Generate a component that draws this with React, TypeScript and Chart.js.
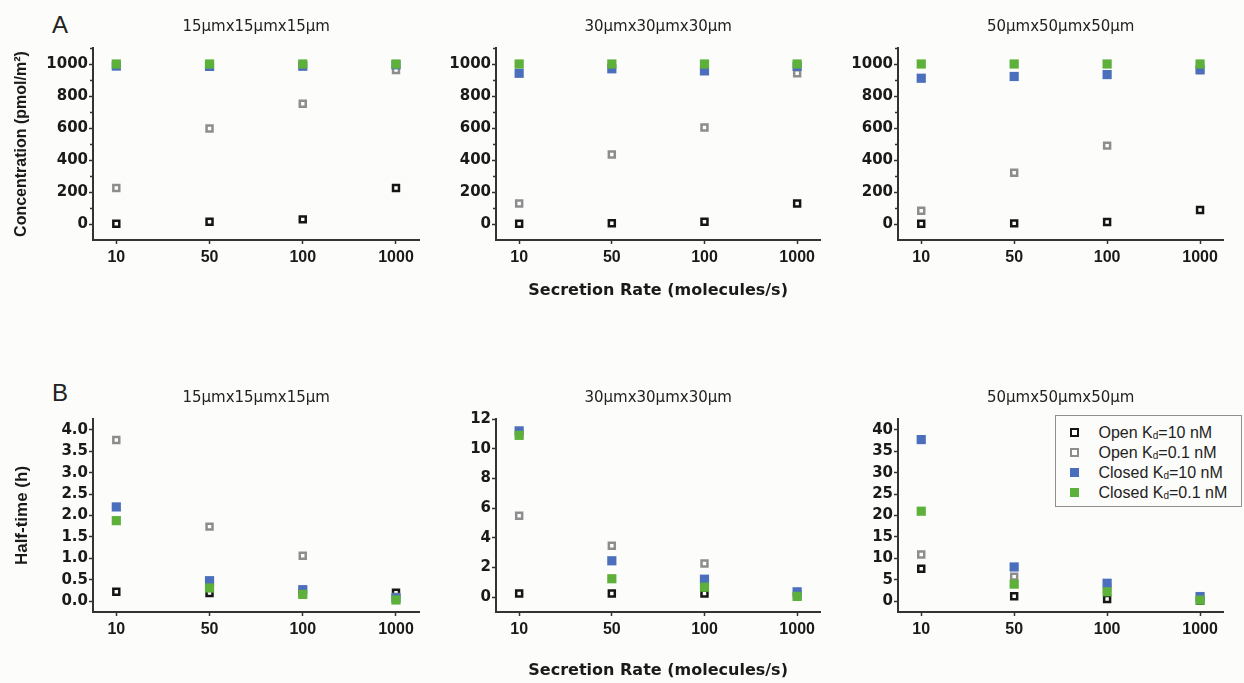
import React, { useEffect, useRef } from 'react';
import { Chart, registerables } from 'chart.js';

Chart.register(...registerables);

// ---------- data ----------
const rates = ['10', '50', '100', '1000'];
const seriesPrefix = ['Open', 'Open', 'Closed', 'Closed'];
const seriesKd = ['10', '0.1', '10', '0.1'];
const boxSizes = ['15μmx15μmx15μm', '30μmx30μmx30μm', '50μmx50μmx50μm'];

// Concentration (pmol/m²)
const conc15Open10 = [1, 14, 29, 225];
const conc15Open01 = [225, 597, 752, 963];
const conc15Closed10 = [987, 985, 986, 995];
const conc15Closed01 = [1000, 1000, 1000, 1000];

const conc30Open10 = [1, 5, 14, 128];
const conc30Open01 = [128, 434, 603, 942];
const conc30Closed10 = [942, 970, 957, 985];
const conc30Closed01 = [1000, 1000, 1000, 1000];

const conc50Open10 = [1, 4, 12, 87];
const conc50Open01 = [83, 320, 490, 960];
const conc50Closed10 = [911, 922, 934, 965];
const conc50Closed01 = [1000, 1000, 1000, 1000];

// Half-time (h)
const half15Open10 = [0.22, 0.19, 0.2, 0.2];
const half15Open01 = [3.76, 1.74, 1.06, 0.1];
const half15Closed10 = [2.2, 0.48, 0.27, 0.08];
const half15Closed01 = [1.88, 0.31, 0.16, 0.03];

const half30Open10 = [0.25, 0.25, 0.25, 0.1];
const half30Open01 = [5.48, 3.46, 2.27, 0.25];
const half30Closed10 = [11.2, 2.45, 1.21, 0.36];
const half30Closed01 = [10.9, 1.24, 0.67, 0.05];

const half50Open10 = [7.6, 1.17, 0.54, 0.1];
const half50Open01 = [10.9, 5.75, 3.1, 0.4];
const half50Closed10 = [37.7, 8.0, 4.2, 1.1];
const half50Closed01 = [21.0, 4.0, 2.2, 0.25];

// tick values
const concTicks = [0, 200, 400, 600, 800, 1000];
const concMinorTicks = [100, 300, 500, 700, 900, 1100];
const half15Ticks = [0, 0.5, 1, 1.5, 2, 2.5, 3, 3.5, 4];
const half30Ticks = [0, 2, 4, 6, 8, 10, 12];
const half50Ticks = [0, 5, 10, 15, 20, 25, 30, 35, 40];

const xTitle = 'Secretion Rate (molecules/s)';
const concTitle = 'Concentration (pmol/m²)';
const halfTitle = 'Half-time (h)';

// ---------- styles ----------
const AXIS = '#333333';
const TEXT = '#1a1a1a';
const BG = '#fcfcfa';
const seriesStyle = [
  { fill: '#ffffff', stroke: '#151515', r: 4.2, bw: 2.5, order: 3 },
  { fill: '#ffffff', stroke: '#8d8d8d', r: 4.2, bw: 2.5, order: 2 },
  { fill: '#4c6fbd', stroke: '#4c6fbd', r: 6.5, bw: 0, order: 1 },
  { fill: '#5db13a', stroke: '#5db13a', r: 6.5, bw: 0, order: 0 },
];

const rows = [
  { top: 0, height: 300, titlePad: { top: 18, bottom: 12 }, xAxisH: 60, xTitlePad: 0, yTitleSize: 16 },
  { top: 370, height: 313, titlePad: { top: 19, bottom: 12 }, xAxisH: 71, xTitlePad: 3, yTitleSize: 17 },
];
const cols = [
  { left: 0, width: 426, yAxisW: 93 },
  { left: 426, width: 401, yAxisW: 70 },
  { left: 828, width: 402, yAxisW: 70 },
];

const minorTickPlugin = {
  id: 'minorTicks',
  afterDraw(chart: any, _args: any, opts: any) {
    const vals: number[] = opts && opts.values;
    if (!vals || !vals.length) return;
    const s = chart.scales.y;
    const ctx = chart.ctx;
    ctx.save();
    ctx.strokeStyle = AXIS;
    ctx.lineWidth = 1.5;
    vals.forEach((v) => {
      const y = Math.round(s.getPixelForValue(v)) + 0.5;
      ctx.beginPath();
      ctx.moveTo(s.right - 3, y);
      ctx.lineTo(s.right, y);
      ctx.stroke();
    });
    ctx.restore();
  },
};

type PanelDef = {
  row: number;
  col: number;
  title: string;
  series: number[][];
  yMin: number;
  yMax: number;
  yTicks: number[];
  yMinor: number[];
  yFmt: (v: number) => string;
  yTitle?: string;
  showXTitle: boolean;
};

const panels: PanelDef[] = [
  { row: 0, col: 0, title: boxSizes[0], series: [conc15Open10, conc15Open01, conc15Closed10, conc15Closed01], yMin: -100, yMax: 1100, yTicks: concTicks, yMinor: concMinorTicks, yFmt: (v) => String(v), yTitle: concTitle, showXTitle: false },
  { row: 0, col: 1, title: boxSizes[1], series: [conc30Open10, conc30Open01, conc30Closed10, conc30Closed01], yMin: -100, yMax: 1100, yTicks: concTicks, yMinor: concMinorTicks, yFmt: (v) => String(v), showXTitle: true },
  { row: 0, col: 2, title: boxSizes[2], series: [conc50Open10, conc50Open01, conc50Closed10, conc50Closed01], yMin: -100, yMax: 1100, yTicks: concTicks, yMinor: concMinorTicks, yFmt: (v) => String(v), showXTitle: false },
  { row: 1, col: 0, title: boxSizes[0], series: [half15Open10, half15Open01, half15Closed10, half15Closed01], yMin: -0.25, yMax: 4.25, yTicks: half15Ticks, yMinor: [], yFmt: (v) => v.toFixed(1), yTitle: halfTitle, showXTitle: false },
  { row: 1, col: 1, title: boxSizes[1], series: [half30Open10, half30Open01, half30Closed10, half30Closed01], yMin: -1, yMax: 12, yTicks: half30Ticks, yMinor: [], yFmt: (v) => String(v), showXTitle: true },
  { row: 1, col: 2, title: boxSizes[2], series: [half50Open10, half50Open01, half50Closed10, half50Closed01], yMin: -2.5, yMax: 42.5, yTicks: half50Ticks, yMinor: [], yFmt: (v) => String(v), showXTitle: false },
];

function ScatterPanel({ def }: { def: PanelDef }) {
  const ref = useRef<HTMLCanvasElement | null>(null);
  const r = rows[def.row];
  const c = cols[def.col];

  useEffect(() => {
    if (!ref.current) return;
    const chart = new Chart(ref.current, {
      type: 'scatter',
      data: {
        datasets: def.series.map((vals, i) => ({
          label: seriesPrefix[i] + ' Kd=' + seriesKd[i] + ' nM',
          data: vals.map((v, j) => ({ x: j, y: v })),
          pointStyle: 'rect',
          pointRadius: seriesStyle[i].r,
          pointHoverRadius: seriesStyle[i].r,
          pointBackgroundColor: seriesStyle[i].fill,
          pointBorderColor: seriesStyle[i].stroke,
          pointBorderWidth: seriesStyle[i].bw,
          pointHoverBorderWidth: seriesStyle[i].bw,
          backgroundColor: seriesStyle[i].fill,
          borderColor: seriesStyle[i].stroke,
          borderWidth: seriesStyle[i].bw,
          order: seriesStyle[i].order,
          showLine: false,
          clip: false,
        })),
      } as any,
      options: {
        responsive: false,
        animation: false,
        events: [],
        layout: { padding: 0 },
        plugins: {
          legend: { display: false },
          tooltip: { enabled: false },
          title: {
            display: true,
            text: def.title,
            fullSize: false,
            color: '#222',
            font: { family: '"DejaVu Sans", sans-serif', size: 15, weight: 'normal', lineHeight: 1.2 },
            padding: r.titlePad,
          },
          minorTicks: { values: def.yMinor },
        } as any,
        scales: {
          x: {
            type: 'linear',
            min: -0.25,
            max: 3.25,
            afterBuildTicks: (s: any) => {
              s.ticks = rates.map((_, i) => ({ value: i }));
            },
            afterFit: (s: any) => {
              s.height = r.xAxisH;
            },
            grid: { display: true, drawOnChartArea: false, drawTicks: true, tickLength: 4, tickColor: AXIS, tickWidth: 1.5 },
            border: { display: true, color: AXIS, width: 2 },
            ticks: {
              callback: (v: any) => rates[v],
              color: TEXT,
              font: { family: '"Liberation Sans", Arial, sans-serif', size: 16, weight: 'bold' },
              padding: 4,
              maxRotation: 0,
              autoSkip: false,
            },
            title: {
              display: def.showXTitle,
              text: xTitle,
              color: TEXT,
              font: { family: '"DejaVu Sans", sans-serif', size: 16, weight: 'bold', lineHeight: 1.2 },
              padding: { top: 0, bottom: r.xTitlePad },
            },
          },
          y: {
            type: 'linear',
            min: def.yMin,
            max: def.yMax,
            afterBuildTicks: (s: any) => {
              s.ticks = def.yTicks.map((v) => ({ value: v }));
            },
            afterFit: (s: any) => {
              s.width = c.yAxisW;
            },
            grid: { display: true, drawOnChartArea: false, drawTicks: true, tickLength: 4, tickColor: AXIS, tickWidth: 1.5 },
            border: { display: true, color: AXIS, width: 2 },
            ticks: {
              callback: (v: any) => def.yFmt(Number(v)),
              color: TEXT,
              font: { family: '"DejaVu Sans", sans-serif', size: 15, weight: 'bold' },
              padding: 1,
              autoSkip: false,
            },
            title: {
              display: !!def.yTitle,
              text: def.yTitle || '',
              color: TEXT,
              font: { family: '"Liberation Sans", Arial, sans-serif', size: r.yTitleSize, weight: 'bold', lineHeight: 1.2 },
              padding: { top: 12, bottom: 0 },
            },
          },
        },
      } as any,
      plugins: [minorTickPlugin as any],
    });
    return () => chart.destroy();
  }, []);

  return (
    <canvas
      ref={ref}
      width={c.width}
      height={r.height}
      style={{ position: 'absolute', left: c.left, top: r.top, width: c.width, height: r.height }}
    />
  );
}

function Legend() {
  const rowCenters = [433, 453, 473, 493];
  const boxLeft = 1055;
  const boxTop = 415;
  const border = 1.5;
  return (
    <div
      style={{
        position: 'absolute',
        left: boxLeft,
        top: boxTop,
        width: 187,
        height: 92,
        boxSizing: 'border-box',
        border: `${border}px solid #8f8f8f`,
        background: BG,
        fontFamily: '"Liberation Sans", Arial, sans-serif',
        fontSize: 16,
        color: '#222',
      }}
    >
      {seriesPrefix.map((p, i) => {
        const st = seriesStyle[i];
        const hollow = st.bw > 0;
        const size = hollow ? 8.3 : 9;
        const cy = rowCenters[i] - boxTop - border;
        const cx = 1075 - boxLeft - border;
        return (
          <React.Fragment key={i}>
            <div
              style={{
                position: 'absolute',
                left: cx - size / 2,
                top: cy - size / 2,
                width: size,
                height: size,
                boxSizing: 'border-box',
                background: st.fill,
                border: hollow ? `${st.bw}px solid ${st.stroke}` : 'none',
              }}
            />
            <div
              style={{
                position: 'absolute',
                left: 1099 - boxLeft - border,
                top: cy - 10,
                height: 20,
                lineHeight: '20px',
                whiteSpace: 'nowrap',
              }}
            >
              {p} K<span style={{ fontSize: 10, verticalAlign: '-1px' }}>d</span>={seriesKd[i]} nM
            </div>
          </React.Fragment>
        );
      })}
    </div>
  );
}

export default function App() {
  return (
    <div
      style={{
        position: 'absolute',
        left: 0,
        top: 0,
        width: 1244,
        height: 683,
        background: BG,
        overflow: 'hidden',
        fontFamily: '"Liberation Sans", Arial, sans-serif',
      }}
    >
      <div style={{ position: 'absolute', left: 52, top: 11, fontSize: 24, lineHeight: '28px', color: '#222' }}>A</div>
      <div style={{ position: 'absolute', left: 52, top: 379, fontSize: 24, lineHeight: '28px', color: '#222' }}>B</div>
      {panels.map((p, i) => (
        <ScatterPanel key={i} def={p} />
      ))}
      <Legend />
    </div>
  );
}
